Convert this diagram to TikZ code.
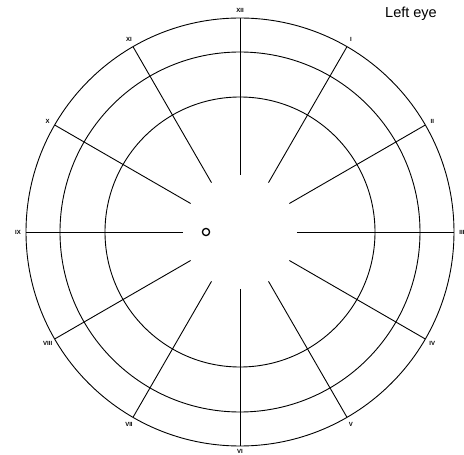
\documentclass[tikz,border=0pt]{standalone}
\usepackage{fontspec}
\setmainfont{Liberation Sans}
\begin{document}
\begin{tikzpicture}[x=1pt,y=1pt,
  ring/.style={line width=0.9pt},
  spoke/.style={line width=0.9pt},
  numlabel/.style={font=\fontsize{6}{6}\selectfont\bfseries, inner sep=0pt}]
\useasboundingbox (-240,-223) rectangle (224,232);
% rings
\draw[ring] (0,0) circle (214);
\draw[ring] (0,0) circle (180);
\draw[ring] (0,0) circle (135);
% spokes
\foreach \a in {0,30,...,330}
  \draw[spoke] (\a:57) -- (\a:214);
% labels
\foreach \a/\t in {90/XII,60/I,30/II,0/III,-30/IV,-60/V,-120/VII,-150/VIII,180/IX,150/X,120/XI}
  \node[numlabel] (lab\t) at (\a:222) {\t};
\node[numlabel] (labVI) at (-90:219.5) {VI};
% fixation point
\draw[line width=1.3pt] (-34,0) circle (3.6);
% title
\node[font=\fontsize{14.5}{14.5}\selectfont, inner sep=0pt] (title) at (171,218.5) {Left eye};
\end{tikzpicture}
\end{document}
